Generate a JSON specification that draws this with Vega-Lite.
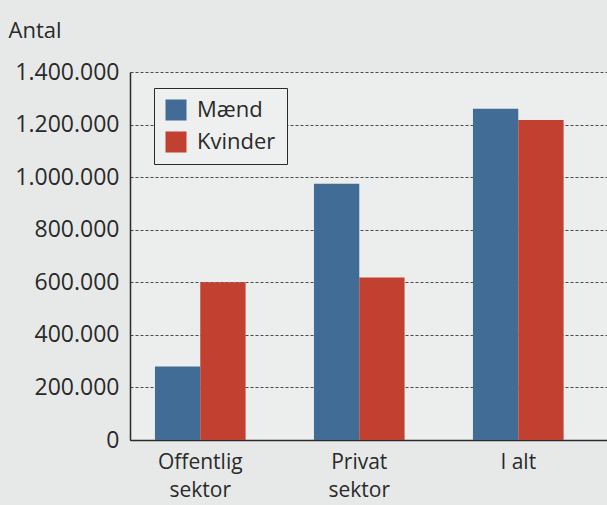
{
  "$schema": "https://vega.github.io/schema/vega-lite/v6.json",
  "autosize": {"type": "none"},
  "padding": {"left": 130, "top": 72, "right": 0, "bottom": 65},
  "width": 477,
  "height": 368,
  "background": "#e7e9e8",
  "config": {
    "view": {"stroke": null, "fill": "#eceeed"},
    "font": "Open Sans"
  },
  "data": {
    "values": [
      {"sektor": "Offentlig sektor", "køn": "Mænd", "antal": 280000},
      {"sektor": "Offentlig sektor", "køn": "Kvinder", "antal": 600000},
      {"sektor": "Privat sektor", "køn": "Mænd", "antal": 975000},
      {"sektor": "Privat sektor", "køn": "Kvinder", "antal": 618000},
      {"sektor": "I alt", "køn": "Mænd", "antal": 1260000},
      {"sektor": "I alt", "køn": "Kvinder", "antal": 1217000}
    ]
  },
  "mark": {"type": "bar"},
  "encoding": {
    "x": {
      "field": "sektor",
      "type": "nominal",
      "sort": ["Offentlig sektor", "Privat sektor", "I alt"],
      "scale": {"paddingInner": 0.43, "paddingOuter": 0.215, "align": 0.365},
      "axis": {
        "title": null,
        "labelAngle": 0,
        "ticks": false,
        "labelPadding": 11,
        "labelFontSize": 21,
        "labelColor": "#2a2a2a",
        "labelLineHeight": 28,
        "labelExpr": "datum.value == 'I alt' ? 'I alt' : split(datum.value, ' ')",
        "domainColor": "#2a2a2a",
        "domainWidth": 1.5
      }
    },
    "xOffset": {"field": "køn", "sort": ["Mænd", "Kvinder"], "scale": {"paddingInner": 0, "paddingOuter": 0}},
    "y": {
      "field": "antal",
      "type": "quantitative",
      "scale": {"domain": [0, 1400000]},
      "axis": {
        "values": [0, 200000, 400000, 600000, 800000, 1000000, 1200000, 1400000],
        "format": ",d",
        "labelExpr": "replace(datum.label, /,/g, '.')",
        "title": "Antal",
        "titleAngle": 0,
        "titleAlign": "left",
        "titleBaseline": "alphabetic",
        "titleX": -122,
        "titleY": -35,
        "titleFontSize": 22,
        "titleFontWeight": "normal",
        "titleColor": "#2a2a2a",
        "labelFontSize": 23,
        "labelColor": "#2a2a2a",
        "labelPadding": 11,
        "ticks": false,
        "domainColor": "#2a2a2a",
        "domainWidth": 1.5,
        "grid": true,
        "gridColor": "#4a4a4a",
        "gridDash": [3, 2],
        "gridWidth": 1
      }
    },
    "color": {
      "field": "køn",
      "type": "nominal",
      "sort": ["Mænd", "Kvinder"],
      "scale": {"domain": ["Mænd", "Kvinder"], "range": ["#406c95", "#c2402f"]},
      "legend": {
        "title": null,
        "orient": "none",
        "legendX": 24,
        "legendY": 16,
        "symbolType": "square",
        "symbolSize": 441,
        "symbolStrokeWidth": 0,
        "labelFontSize": 22,
        "labelColor": "#2a2a2a",
        "rowPadding": 10,
        "padding": 11,
        "strokeColor": "#2a2a2a",
        "fillColor": "#eef0ef",
        "labelOffset": 10
      }
    }
  }
}
